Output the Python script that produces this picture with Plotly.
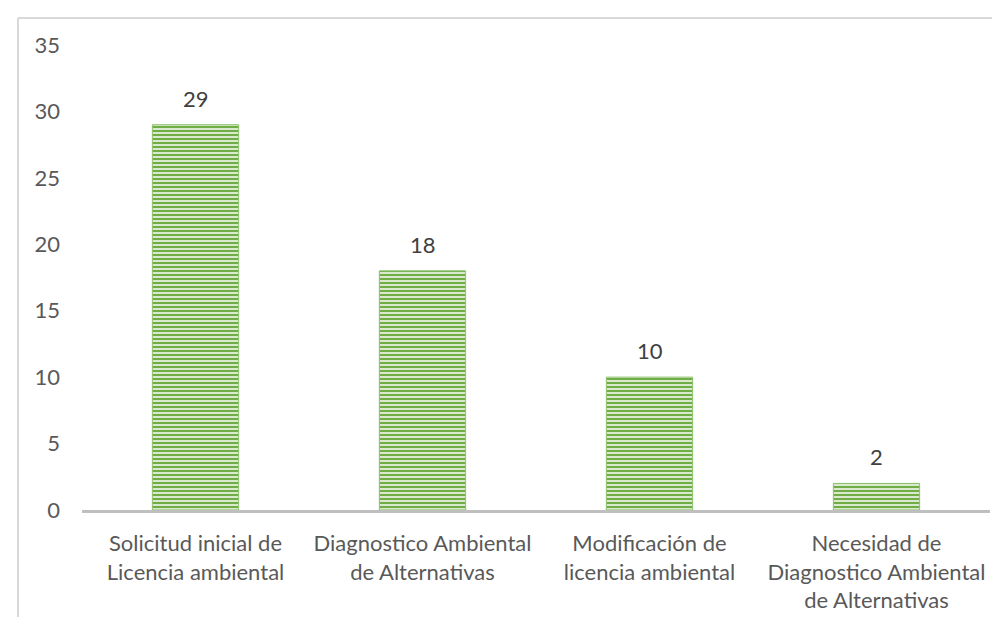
import plotly.graph_objects as go

categories = [
    "Solicitud inicial de<br>Licencia ambiental",
    "Diagnostico Ambiental<br>de Alternativas",
    "Modificación de<br>licencia ambiental",
    "Necesidad de<br>Diagnostico Ambiental<br>de Alternativas",
]
values = [29, 18, 10, 2]
y_ticks = [0, 5, 10, 15, 20, 25, 30, 35]

FONT = "Lato"

fig = go.Figure()
fig.add_trace(go.Bar(
    x=categories,
    y=values,
    marker=dict(
        color="#70ad47",
        line=dict(color="#8cc06a", width=1),
        pattern=dict(shape="-", fgcolor="#70ad47", bgcolor="#e4f0dc",
                     size=4, solidity=0.55, fillmode="replace"),
    ),
    hoverinfo="x+y",
))

for c, v in zip(categories, values):
    fig.add_annotation(x=c, y=v, text=str(v), showarrow=False,
                       yanchor="bottom", yshift=11,
                       font=dict(family=FONT, size=22, color="#404040"))

fig.update_layout(
    width=1000, height=617,
    margin=dict(l=74, r=18, t=37, b=115),
    paper_bgcolor="white", plot_bgcolor="white",
    bargap=0.62,
    showlegend=False,
    font=dict(family=FONT, size=22, color="#595959"),
    xaxis=dict(
        showline=True, linecolor="#bfbfbf", linewidth=2.5,
        showgrid=False, ticks="", tickfont=dict(family=FONT, size=22, color="#595959"),
        ticklabelstandoff=12,
    ),
    yaxis=dict(
        range=[0, 35], tickvals=y_ticks, showgrid=False, zeroline=False,
        showline=False, ticks="", tickfont=dict(family=FONT, size=22, color="#595959"),
        ticklabelstandoff=21,
    ),
    shapes=[
        dict(type="line", xref="paper", yref="paper", x0=-0.0705, x1=1.05,
             y0=1.058, y1=1.058, line=dict(color="#d9d9d9", width=2)),
        dict(type="line", xref="paper", yref="paper", x0=-0.0705, x1=-0.0705,
             y0=1.058, y1=-0.3, line=dict(color="#d9d9d9", width=2)),
    ],
)

fig.write_html("out.html")
